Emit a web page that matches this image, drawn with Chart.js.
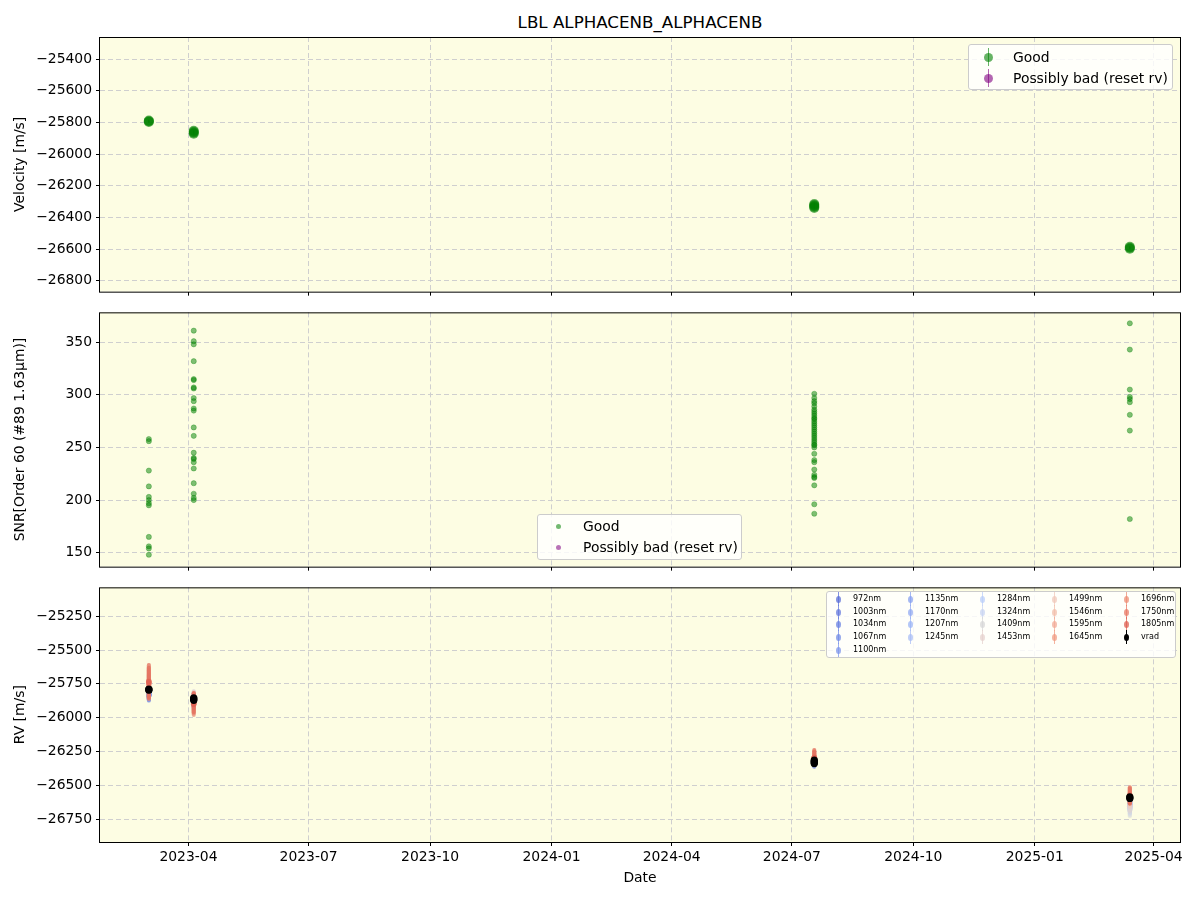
<!DOCTYPE html>
<html>
<head>
<meta charset="utf-8">
<script src="https://cdn.jsdelivr.net/npm/chart.js@4.4.1/dist/chart.umd.min.js"></script>
<style>
body { margin: 0; background: #fff; font-family: 'DejaVu Sans', sans-serif; }
#wrap { position: relative; width: 1200px; height: 900px; }
canvas { position: absolute; left: 0; }
.title { position: absolute; left: 100px; width: 1080px; top: 12px; text-align: center; font-size: 16.7px; color: #000; }
.legend { position: absolute; background: rgba(255,255,255,0.8); border: 1px solid #cccccc; border-radius: 3px; box-sizing: border-box; }
.item { position: absolute; white-space: nowrap; color: #000; }
.mk { position: absolute; }
</style>
</head>
<body>
<div id="wrap">
  <div class="title">LBL ALPHACENB_ALPHACENB</div>
  <canvas id="c1" width="1200" height="304" style="top:0px"></canvas>
  <canvas id="c2" width="1200" height="279" style="top:300px"></canvas>
  <canvas id="c3" width="1200" height="325" style="top:575px"></canvas>
  <div class="legend" id="leg1" style="left:968px;top:44px;width:205px;height:46px"></div>
  <div class="legend" id="leg2" style="left:537px;top:514px;width:205px;height:46px"></div>
  <div class="legend" id="leg3" style="left:826px;top:591px;width:350px;height:67px"></div>
</div>
<script>
// --- données ---
const xRange = ['2023-01-24', '2025-04-21'];
const tickDates = ['2023-04-01', '2023-07-01', '2023-10-01', '2024-01-01', '2024-04-01',
                   '2024-07-01', '2024-10-01', '2025-01-01', '2025-04-01'];
const tickLabels = ['2023-04', '2023-07', '2023-10', '2024-01', '2024-04',
                    '2024-07', '2024-10', '2025-01', '2025-04'];
const epochDates = ['2023-03-02', '2023-04-05', '2024-07-18', '2025-03-14'];

// panneau 1 : vitesse
const velDates = ['2023-03-02', '2023-03-02', '2023-03-02',
                  '2023-04-05', '2023-04-05', '2023-04-05', '2023-04-05',
                  '2024-07-18', '2024-07-18', '2024-07-18', '2024-07-18', '2024-07-18',
                  '2025-03-14', '2025-03-14', '2025-03-14'];
const velValues = [-25789, -25793, -25797,
                   -25853, -25860, -25866, -25872,
                   -26315, -26322, -26328, -26334, -26340,
                   -26586, -26592, -26598];
const velErrors = [4, 4, 4, 4, 4, 4, 4, 4, 4, 4, 4, 4, 4, 4, 4];
const velTicks = [-26800, -26600, -26400, -26200, -26000, -25800, -25600, -25400];

// panneau 2 : SNR
const snrEpoch1 = [258, 256, 228, 213, 203, 200, 197, 195, 165, 156, 154, 148];
const snrEpoch2 = [361, 351, 348, 332, 315, 314, 307, 306, 297, 294, 287, 285,
                   269, 261, 245, 240, 239, 236, 230, 216, 206, 202, 200];
const snrEpoch3 = [301, 297, 294, 292, 289, 286, 284, 282, 280, 278, 277, 275, 273, 271,
                   269, 267, 265, 263, 261, 259, 257, 255, 253, 252, 250, 244, 238, 236,
                   229, 224, 222, 221, 214, 196, 187];
const snrEpoch4 = [368, 343, 305, 298, 296, 293, 281, 266, 182];
const snrTicks = [150, 200, 250, 300, 350];

// panneau 3 : RV par longueur d'onde
const wavelengths = ['972nm', '1003nm', '1034nm', '1067nm', '1100nm', '1135nm', '1170nm',
                     '1207nm', '1245nm', '1284nm', '1324nm', '1409nm', '1453nm', '1499nm',
                     '1546nm', '1595nm', '1645nm', '1696nm', '1750nm', '1805nm'];
const rvEpoch1 = [-25830, -25820, -25835, -25825, -25815, -25825, -25805, -25815, -25800, -25810,
                  -25790, -25800, -25780, -25770, -25770, -25750, -25740, -25730, -25745, -25735];
const rvEpoch2 = [-25880, -25870, -25885, -25875, -25865, -25875, -25860, -25870, -25855, -25865,
                  -25850, -25860, -25850, -25865, -25875, -25885, -25890, -25895, -25890, -25900];
const rvEpoch3 = [-26335, -26330, -26340, -26330, -26325, -26335, -26320, -26330, -26315, -26325,
                  -26320, -26330, -26315, -26310, -26305, -26300, -26300, -26295, -26300, -26295];
const rvEpoch4 = [-26600, -26595, -26605, -26600, -26605, -26620, -26635, -26645, -26655, -26665,
                  -26670, -26680, -26655, -26620, -26600, -26585, -26580, -26575, -26580, -26575];
const rvErr1 = [40, 40, 40, 40, 40, 45, 45, 45, 45, 50, 50, 50, 60, 80, 90, 100, 110, 120, 115, 125];
const rvErr2 = [40, 40, 40, 40, 40, 40, 40, 40, 40, 45, 45, 45, 45, 55, 60, 65, 70, 75, 70, 80];
const rvErr3 = [25, 25, 25, 25, 25, 25, 25, 25, 25, 25, 25, 25, 30, 35, 40, 45, 50, 55, 50, 55];
const rvErr4 = [30, 30, 30, 30, 30, 35, 35, 35, 40, 45, 50, 50, 40, 40, 45, 50, 55, 60, 55, 60];
const rvTicks = [-26750, -26500, -26250, -26000, -25750, -25500, -25250];

// couleurs (bleu -> rouge selon la longueur d'onde)
const wlColors = ['90,110,215', '100,120,220', '105,130,225', '115,140,230', '125,150,235',
                  '135,160,240', '145,170,242', '155,180,245', '170,190,245', '185,205,248',
                  '200,212,242', '215,215,215', '230,210,205', '240,200,185', '242,190,170',
                  '242,170,150', '240,155,130', '238,140,115', '232,120,100', '222,95,80'];

// --- utilitaires ---
const jour = s => Date.parse(s) / 86400000;
const tickDays = tickDates.map(jour);
const moins = v => String(v).replace('-', '\u2212');

Chart.defaults.font.family = "'DejaVu Sans', sans-serif";
Chart.defaults.font.size = 13.9;
Chart.defaults.color = '#000';

// fond jaune et cadre noir
const fondCadre = {
  id: 'fondCadre',
  beforeDraw(chart) {
    const a = chart.chartArea, ctx = chart.ctx;
    ctx.save();
    ctx.fillStyle = '#fdfde3';
    ctx.fillRect(a.left, a.top, a.right - a.left, a.bottom - a.top);
    ctx.restore();
  },
  afterDraw(chart) {
    const a = chart.chartArea, ctx = chart.ctx;
    ctx.save();
    ctx.strokeStyle = '#000';
    ctx.lineWidth = 1;
    ctx.strokeRect(a.left - 0.5, a.top + 0.5, a.right - a.left + 1, a.bottom - a.top);
    ctx.restore();
  }
};

// barres d'erreur verticales
const barresErreur = {
  id: 'barresErreur',
  beforeDatasetDraw(chart, args) {
    const ds = chart.data.datasets[args.index];
    if (!ds.errors) return;
    const y = chart.scales.y, ctx = chart.ctx;
    ctx.save();
    ctx.strokeStyle = ds.errorColor;
    ctx.lineWidth = ds.errorWidth || 1;
    ctx.lineCap = 'round';
    args.meta.data.forEach((pt, i) => {
      const v = ds.data[i].y, e = ds.errors[i];
      ctx.beginPath();
      ctx.moveTo(pt.x, y.getPixelForValue(v - e));
      ctx.lineTo(pt.x, y.getPixelForValue(v + e));
      ctx.stroke();
    });
    ctx.restore();
  }
};

function creerGraphe(id, datasets, yMin, yMax, yTicks, yTitre, padTop, xHauteur, avecDates) {
  return new Chart(document.getElementById(id), {
    type: 'scatter',
    data: { datasets: datasets },
    plugins: [fondCadre, barresErreur],
    options: {
      responsive: false,
      animation: false,
      events: [],
      layout: { padding: { left: 0, right: 20, top: padTop, bottom: 0 } },
      plugins: { legend: { display: false }, tooltip: { enabled: false } },
      scales: {
        x: {
          type: 'linear',
          min: jour(xRange[0]),
          max: jour(xRange[1]),
          afterBuildTicks: s => { s.ticks = tickDays.map(v => ({ value: v })); },
          afterFit: s => { s.height = xHauteur; },
          grid: { color: '#cfcfcf', lineWidth: 1, tickLength: 4, tickColor: '#000', tickWidth: 1, tickBorderDash: [] },
          border: { display: false, dash: [5, 3] },
          ticks: {
            display: avecDates,
            autoSkip: false,
            maxRotation: 0,
            padding: 3,
            callback: v => tickLabels[tickDays.indexOf(v)]
          },
          title: { display: avecDates, text: 'Date', padding: { top: 4, bottom: 13 } }
        },
        y: {
          min: yMin,
          max: yMax,
          afterBuildTicks: s => { s.ticks = yTicks.map(v => ({ value: v })); },
          afterFit: s => { s.width = 100; },
          grid: { color: '#cfcfcf', lineWidth: 1, tickLength: 4, tickColor: '#000', tickWidth: 1, tickBorderDash: [] },
          border: { display: false, dash: [5, 3] },
          ticks: { padding: 4, callback: v => moins(v) },
          title: { display: true, text: yTitre, padding: { top: 12, bottom: 4 } }
        }
      }
    }
  });
}

// panneau 1
creerGraphe('c1', [{
  data: velDates.map((d, i) => ({ x: jour(d), y: velValues[i] })),
  errors: velErrors,
  errorColor: 'rgba(0,128,0,0.6)',
  pointRadius: 5,
  pointBackgroundColor: 'rgba(0,128,0,0.6)',
  pointBorderWidth: 0
}], -26869, -25261, velTicks, 'Velocity [m/s]', 37, 12, false);

// panneau 2
const snrEpoques = [snrEpoch1, snrEpoch2, snrEpoch3, snrEpoch4];
const snrPoints = [];
snrEpoques.forEach((liste, k) => liste.forEach(v => snrPoints.push({ x: jour(epochDates[k]), y: v })));
creerGraphe('c2', [{
  data: snrPoints,
  pointRadius: 2.6,
  pointBackgroundColor: 'rgba(0,128,0,0.5)',
  pointBorderColor: 'rgba(0,128,0,0.3)',
  pointBorderWidth: 1
}], 136.7, 378.4, snrTicks, 'SNR[Order 60 (#89 1.63\u03bcm)]', 12, 12, false);

// panneau 3
const rvEpoques = [rvEpoch1, rvEpoch2, rvEpoch3, rvEpoch4];
const errEpoques = [rvErr1, rvErr2, rvErr3, rvErr4];
const ds3 = wavelengths.map((wl, i) => ({
  label: wl,
  order: 20 - i,
  data: rvEpoques.map((ep, k) => ({ x: jour(epochDates[k]), y: ep[i] })),
  errors: errEpoques.map(ep => ep[i]),
  errorColor: 'rgba(' + wlColors[i] + ',0.5)',
  errorWidth: 4,
  pointRadius: 2.8,
  pointBackgroundColor: 'rgba(' + wlColors[i] + ',0.7)',
  pointBorderWidth: 0
}));
ds3.push({
  label: 'vrad',
  order: 0,
  data: velDates.map((d, i) => ({ x: jour(d), y: velValues[i] })),
  errors: velErrors,
  errorColor: '#000',
  pointRadius: 3.6,
  pointBackgroundColor: '#000',
  pointBorderWidth: 0
});
creerGraphe('c3', ds3, -26920, -25036, rvTicks, 'RV [m/s]', 12, 58, true);

// --- légendes en HTML ---
function marqueur(parent, cx, cy, w, h, couleur, barre) {
  if (barre) {
    const l = document.createElement('div');
    l.className = 'mk';
    l.style.cssText = 'left:' + (cx - 0.5) + 'px;top:' + (cy - h) + 'px;width:1px;height:' + (2 * h) + 'px;background:' + couleur;
    parent.appendChild(l);
  }
  const m = document.createElement('div');
  m.className = 'mk';
  m.style.cssText = 'left:' + (cx - w / 2) + 'px;top:' + (cy - h / 2) + 'px;width:' + w + 'px;height:' + h + 'px;border-radius:50%;background:' + couleur;
  parent.appendChild(m);
}
function texte(parent, x, cy, t, taille) {
  const d = document.createElement('div');
  d.className = 'item';
  d.style.cssText = 'left:' + x + 'px;top:' + (cy - taille * 0.6) + 'px;font-size:' + taille + 'px;line-height:' + (taille * 1.2) + 'px';
  d.textContent = t;
  parent.appendChild(d);
}
const leg1 = document.getElementById('leg1');
marqueur(leg1, 19, 12, 9, 9, 'rgba(0,128,0,0.6)', true);
texte(leg1, 44, 12, 'Good', 13.9);
marqueur(leg1, 19, 33, 9, 9, 'rgba(128,0,128,0.6)', true);
texte(leg1, 44, 33, 'Possibly bad (reset rv)', 13.9);

const leg2 = document.getElementById('leg2');
marqueur(leg2, 20, 11, 5, 5, 'rgba(0,128,0,0.55)', false);
texte(leg2, 45, 11, 'Good', 13.9);
marqueur(leg2, 20, 32, 5, 5, 'rgba(128,0,128,0.55)', false);
texte(leg2, 45, 32, 'Possibly bad (reset rv)', 13.9);

const leg3 = document.getElementById('leg3');
const entrees3 = wavelengths.map((wl, i) => ({ t: wl, c: 'rgba(' + wlColors[i] + ',0.75)' }));
entrees3.push({ t: 'vrad', c: '#000' });
const lignesY = [7, 20, 32, 45, 58];
entrees3.forEach((e, n) => {
  let col, row;
  if (n < 5) { col = 0; row = n; } else { col = 1 + Math.floor((n - 5) / 4); row = (n - 5) % 4; }
  marqueur(leg3, 11 + col * 72, lignesY[row], 5, 7, e.c, true);
  texte(leg3, 26 + col * 72, lignesY[row], e.t, 8);
});
</script>
</body>
</html>
